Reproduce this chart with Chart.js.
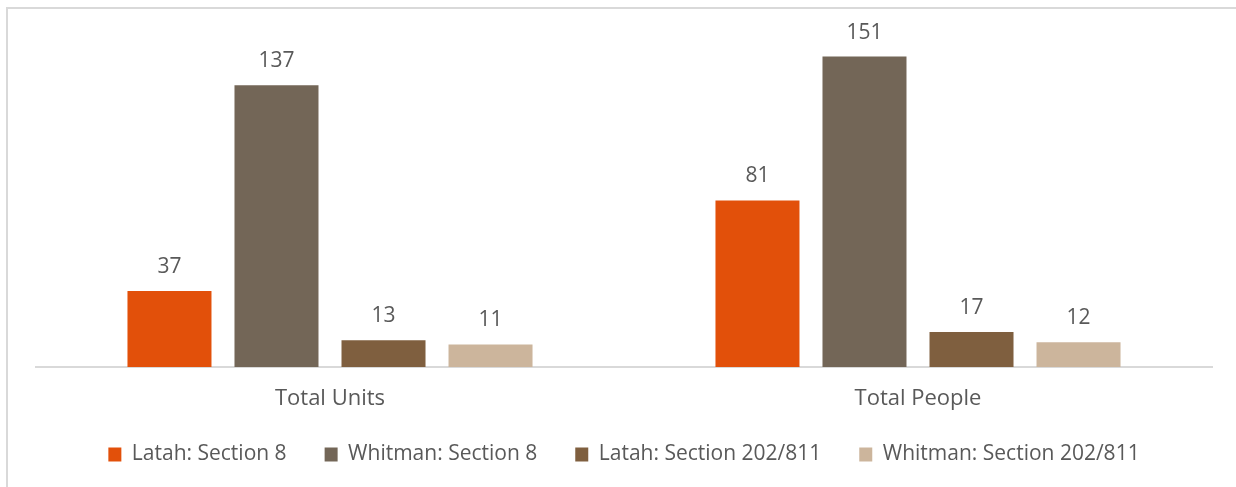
<!DOCTYPE html>
<html>
<head>
<meta charset="utf-8">
<script src="https://cdn.jsdelivr.net/npm/chart.js@4"></script>
<style>
  html, body { margin: 0; padding: 0; background: #ffffff; overflow: hidden; }
  #frame { position: absolute; left: 6px; top: 7px; width: 1400px; height: 700px; border: 2px solid #d9d9d9; box-sizing: border-box; }
  #wrap { position: absolute; left: 0; top: 0; width: 1236px; height: 487px; }
</style>
</head>
<body>
<div id="frame"></div>
<div id="wrap"><canvas id="c" width="1236" height="487"></canvas></div>
<script>
const categories = ["Total Units", "Total People"];
const seriesNames = ["Latah: Section 8", "Whitman: Section 8", "Latah: Section 202/811", "Whitman: Section 202/811"];
const latahSection8 = [37, 81];
const whitmanSection8 = [137, 151];
const latahSection202 = [13, 17];
const whitmanSection202 = [11, 12];
const seriesColors = ["#E2500A", "#736657", "#7F5F3F", "#CCB59C"];

const FONT = "'Open Sans', sans-serif";
const TEXT = "#595959";

const valueLabels = {
  id: 'valueLabels',
  afterDatasetsDraw(chart) {
    const ctx = chart.ctx;
    ctx.save();
    ctx.font = "21px " + FONT;
    ctx.fillStyle = TEXT;
    ctx.textAlign = 'center';
    ctx.textBaseline = 'alphabetic';
    chart.data.datasets.forEach((ds, i) => {
      const meta = chart.getDatasetMeta(i);
      meta.data.forEach((el, j) => {
        ctx.fillText(String(ds.data[j]), el.x, el.y - 18);
      });
    });
    ctx.restore();
  }
};

const seriesData = [latahSection8, whitmanSection8, latahSection202, whitmanSection202];

new Chart(document.getElementById('c'), {
  type: 'bar',
  data: {
    labels: categories,
    datasets: seriesNames.map((name, i) => ({
      label: name,
      data: seriesData[i],
      backgroundColor: seriesColors[i],
      borderWidth: 0,
      categoryPercentage: 0.728,
      barPercentage: 0.785
    }))
  },
  options: {
    responsive: false,
    animation: false,
    layout: { padding: { left: 36, right: 24, top: 38, bottom: 12 } },
    scales: {
      x: {
        grid: { display: false, drawTicks: false },
        border: { display: true, color: '#d9d9d9', width: 2 },
        ticks: { color: TEXT, font: { family: FONT, size: 22 }, padding: 19 },
        afterFit(scale) {
          scale.height = 39;
          scale._computeLabelArea = () => undefined;
        }
      },
      y: {
        display: false,
        min: 0,
        max: 160
      }
    },
    plugins: {
      legend: {
        position: 'bottom',
        labels: {
          color: TEXT,
          font: { family: FONT, size: 21 },
          boxWidth: 13,
          boxHeight: 14,
          padding: 38
        }
      },
      tooltip: { enabled: false }
    }
  },
  plugins: [valueLabels]
});
</script>
</body>
</html>
